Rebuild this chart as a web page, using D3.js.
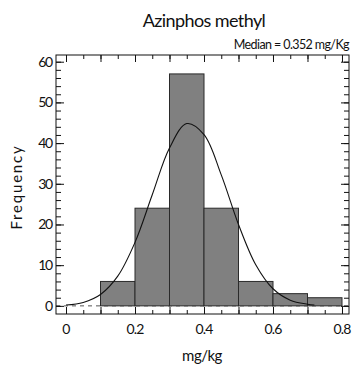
<!DOCTYPE html>
<html><head><meta charset="utf-8">
<script src="https://cdn.jsdelivr.net/npm/d3@7"></script>
<style>body{margin:0;background:#fff}svg{display:block}text{font-family:"Lato","DejaVu Sans",sans-serif;fill:#111}</style>
</head><body><svg id="c" width="352" height="379"></svg>
<script>
const binStarts = [0.1,0.2,0.3,0.4,0.5,0.6,0.7];
const binWidth = 0.1;
const counts = [6,24,57,24,6,3,2];
const curveX = [0,0.05,0.1,0.15,0.2,0.25,0.3,0.35,0.4,0.45,0.5,0.55,0.6,0.65,0.7,0.72];
const curveY = [0.2,0.85,2.8,7.3,15.6,27.3,38.8,44.8,42.1,32.2,20.0,10.1,4.2,1.4,0.4,0.2];
const xTicks = [0,0.2,0.4,0.6,0.8];
const yTicks = [0,10,20,30,40,50,60];
const title = "Azinphos methyl";
const subtitle = "Median = 0.352 mg/Kg";

const svg = d3.select("#c");
const L=56,R=349,T=55,B=314;
const x = d3.scaleLinear().domain([-0.029,0.8203]).range([L,R]);
const y = d3.scaleLinear().domain([-2,61.65]).range([B,T]);

svg.append("line").attr("x1",L).attr("x2",R).attr("y1",y(0)).attr("y2",y(0))
  .attr("stroke","#555").attr("stroke-dasharray","4,4").attr("stroke-width",1);

svg.append("g").selectAll("rect").data(counts).join("rect")
  .attr("x",(d,i)=>x(binStarts[i])).attr("width",(d,i)=>x(binStarts[i]+binWidth)-x(binStarts[i]))
  .attr("y",d=>y(d)).attr("height",d=>y(0)-y(d))
  .attr("fill","#808080").attr("stroke","#2a2a2a").attr("stroke-width",1);

const pts = curveX.map((v,i)=>[v,curveY[i]]);
svg.append("path").datum(pts).attr("fill","none").attr("stroke","#111").attr("stroke-width",1.1)
  .attr("d",d3.line().x(d=>x(d[0])).y(d=>y(d[1])).curve(d3.curveCatmullRom));

svg.append("rect").attr("x",L).attr("y",T).attr("width",R-L).attr("height",B-T)
  .attr("fill","none").attr("stroke","#111").attr("stroke-width",1);

const xMinor = d3.range(0,0.8001,0.05);
const xMid = xTicks.concat([0.1,0.3,0.5,0.7]);
const yMinor = d3.range(0,60.01,2);
function ax(gen, pos, vals, size){
  svg.append("g").attr("transform",pos)
    .call(gen.tickValues(vals).tickSize(size).tickFormat("")).select(".domain").remove();
}
ax(d3.axisBottom(x), `translate(0,${B})`, xMinor, -4);
ax(d3.axisBottom(x), `translate(0,${B})`, xMid, -7);
ax(d3.axisTop(x), `translate(0,${T})`, xMinor, -4);
ax(d3.axisTop(x), `translate(0,${T})`, xMid, -7);
ax(d3.axisLeft(y), `translate(${L},0)`, yMinor, -5);
ax(d3.axisLeft(y), `translate(${L},0)`, yTicks, -8);
ax(d3.axisRight(y), `translate(${R},0)`, yMinor, -5);
ax(d3.axisRight(y), `translate(${R},0)`, yTicks, -8);
svg.selectAll(".tick line").attr("stroke","#111");

svg.append("g").selectAll("text").data(xTicks).join("text")
  .attr("x",d=>x(d)).attr("y",334).attr("text-anchor","middle")
  .attr("font-size",14).attr("letter-spacing",-0.8).text(d=>d3.format("")(d));
svg.append("g").selectAll("text").data(yTicks).join("text")
  .attr("x",L-4).attr("y",d=>y(d)+5).attr("text-anchor","end")
  .attr("font-size",14).attr("letter-spacing",-1.2).text(d=>d);

svg.append("text").attr("x",204).attr("y",27).attr("text-anchor","middle")
  .attr("font-size",18).attr("letter-spacing",-0.6).text(title);
svg.append("text").attr("x",349).attr("y",49).attr("text-anchor","end")
  .attr("font-size",12.5).attr("letter-spacing",-0.6).text(subtitle);
svg.append("text").attr("x",202).attr("y",361).attr("text-anchor","middle")
  .attr("font-size",15).attr("letter-spacing",-0.5).text("mg/kg");
svg.append("text").attr("transform","translate(22,187) rotate(-90)").attr("text-anchor","middle")
  .attr("font-size",15).attr("letter-spacing",1.8).text("Frequency");
</script></body></html>
